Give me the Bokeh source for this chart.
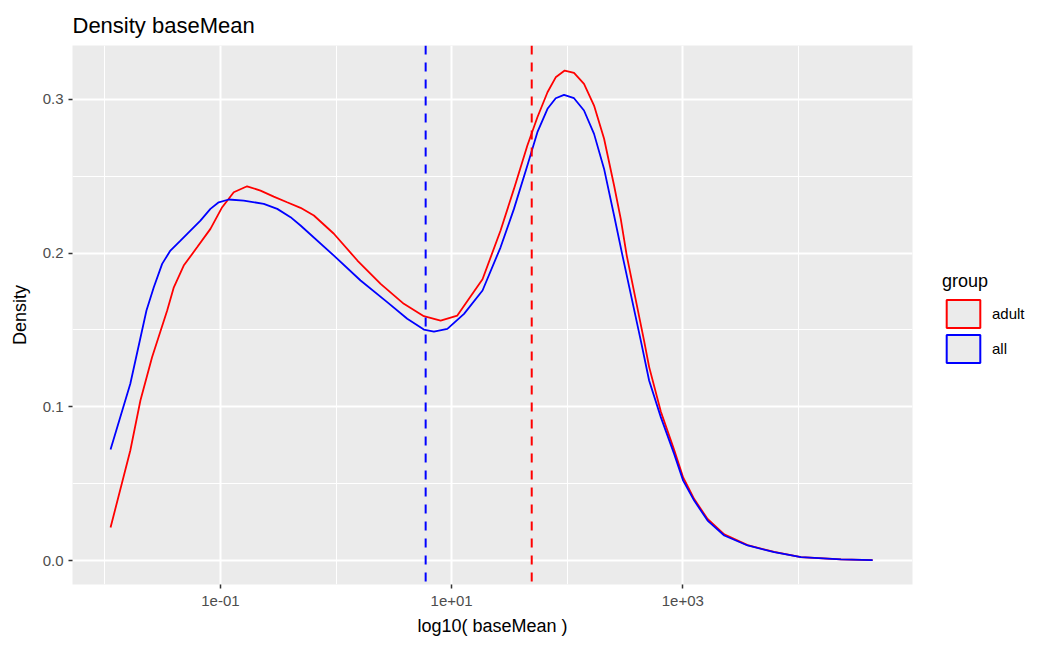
from bokeh.plotting import figure
from bokeh.models import (Range1d, FixedTicker, CustomJSTickFormatter, PrintfTickFormatter,
                          Span, Legend, LegendItem, Title)
from bokeh.embed import file_html
from bokeh.resources import INLINE

# ---- data ----
groups = ["adult", "all"]
group_colors = ["#FF0000", "#0000FF"]

adult_x = [0.0112, 0.0166, 0.0203, 0.0256, 0.0346, 0.0395, 0.0481, 0.0628, 0.0819, 0.1035,
           0.1303, 0.170, 0.222, 0.289, 0.377, 0.493, 0.643, 0.958, 1.53, 2.43,
           3.86, 5.75, 8.03, 11.2, 18.5, 26.5, 34.6, 45.2, 55.2, 67.5,
           79.5, 95.1, 114.5, 139.7, 170.6, 208.4, 254.3, 290.4, 327.3, 462,
           511, 645, 841, 1007, 1254, 1637, 2282, 3634, 6174, 10520, 23350, 43850]
adult_density = [0.0215, 0.0716, 0.1041, 0.1323, 0.1627, 0.1778, 0.1919, 0.2038, 0.2158, 0.2299,
                 0.2396, 0.2435, 0.2407, 0.2368, 0.2331, 0.2295, 0.2245, 0.2126, 0.1952, 0.1800,
                 0.1670, 0.1590, 0.1561, 0.1594, 0.1830, 0.2147, 0.2418, 0.2700, 0.2884, 0.3047,
                 0.3144, 0.3188, 0.3173, 0.3102, 0.2960, 0.2744, 0.2440, 0.2223, 0.1984, 0.1431,
                 0.1260, 0.0970, 0.0720, 0.0540, 0.0400, 0.0270, 0.0170, 0.0100, 0.0056, 0.0022,
                 0.0007, 0.0002]

all_x = [0.0112, 0.0166, 0.0229, 0.0265, 0.0313, 0.0369, 0.0451, 0.0550, 0.0671, 0.0819,
         0.0966, 0.118, 0.159, 0.237, 0.310, 0.404, 0.493, 0.958, 1.63, 2.77,
         4.13, 5.75, 7.03, 9.18, 12.8, 18.5, 26.5, 34.6, 45.2, 55.2,
         67.5, 79.5, 93.8, 114.5, 139.7, 170.6, 208.4, 254.3, 300.6, 433,
         511, 645, 841, 1007, 1254, 1637, 2282, 3634, 6174, 10520, 23350, 43850]
all_density = [0.0722, 0.1150, 0.1627, 0.1778, 0.1930, 0.2017, 0.2082, 0.2147, 0.2212, 0.2288,
               0.2331, 0.2349, 0.2342, 0.2321, 0.2288, 0.2234, 0.2180, 0.1984, 0.1822, 0.1681,
               0.1573, 0.1503, 0.1490, 0.1507, 0.1605, 0.1757, 0.2038, 0.2288, 0.2570, 0.2787,
               0.2939, 0.3008, 0.3030, 0.3008, 0.2928, 0.2776, 0.2548, 0.2245, 0.1984, 0.1431,
               0.1171, 0.0933, 0.0694, 0.0520, 0.0390, 0.0260, 0.0163, 0.0098, 0.0054, 0.0022,
               0.0007, 0.0002]

vline_x = [49.3, 5.96]          # adult, all
x_major = [0.1, 10, 1000]
x_minor = [0.01, 1, 100, 10000]
y_major = [0.0, 0.1, 0.2, 0.3]
y_minor = [0.05, 0.15, 0.25]

FONT = "Liberation Sans"
PANEL = "#EBEBEB"

p = figure(frame_width=840, frame_height=539, x_axis_type="log", output_backend="svg",
           toolbar_location=None,
           x_range=Range1d(0.005248, 97050), y_range=Range1d(-0.0156, 0.3351),
           min_border_left=72, min_border_right=122, min_border_top=45, min_border_bottom=52)
p.background_fill_color = PANEL
p.border_fill_color = "white"
p.outline_line_color = None

p.title = Title(text="Density baseMean", text_font=FONT, text_font_size="22px",
                text_font_style="normal", text_color="black", align="left", offset=0,
                standoff=16)

# density lines
for xs, ys, c in [(adult_x, adult_density, group_colors[0]), (all_x, all_density, group_colors[1])]:
    p.line(xs, ys, line_color=c, line_width=1.8)

# dashed reference lines
for xv, c in zip(vline_x, group_colors):
    p.add_layout(Span(location=xv, dimension="height", line_color=c, line_width=2,
                      line_dash="9 8"))

# axes
xt = FixedTicker(ticks=x_major, minor_ticks=x_minor)
yt = FixedTicker(ticks=y_major, minor_ticks=y_minor)
p.xaxis.ticker = xt
p.yaxis.ticker = yt
p.xgrid.ticker = xt
p.ygrid.ticker = yt
p.xaxis.formatter = CustomJSTickFormatter(code="""
const e = Math.round(Math.log10(tick));
const s = e < 0 ? '-' : '+';
const a = Math.abs(e);
return '1e' + s + (a < 10 ? '0' : '') + a;
""")
p.yaxis.formatter = PrintfTickFormatter(format="%.1f")

for ax in (p.xaxis, p.yaxis):
    ax.axis_line_color = None
    ax.major_tick_line_color = "#333333"
    ax.major_tick_line_width = 1.5
    ax.major_tick_out = 4
    ax.major_tick_in = 0
    ax.minor_tick_line_color = None
    ax.major_label_text_font = FONT
    ax.major_label_text_font_size = "15px"
    ax.major_label_text_color = "#4D4D4D"
    ax.axis_label_text_font = FONT
    ax.axis_label_text_font_size = "18px"
    ax.axis_label_text_font_style = "normal"
    ax.axis_label_text_color = "black"

p.xaxis.axis_label = "log10( baseMean )"
p.yaxis.axis_label = "Density"
p.xaxis.major_label_standoff = 7
p.yaxis.major_label_standoff = 5
p.xaxis.axis_label_standoff = 7
p.yaxis.axis_label_standoff = 10

for g in (p.xgrid, p.ygrid):
    g.grid_line_color = "white"
    g.grid_line_width = 2
    g.minor_grid_line_color = "white"
    g.minor_grid_line_width = 1

# legend keys: invisible rect glyphs with coloured outline
nan = float("nan")
keys = []
for name, c in zip(groups, group_colors):
    kr = p.rect(x=[nan], y=[nan], width=1, height=1, fill_color=PANEL, line_color=c,
                line_width=2)
    keys.append(LegendItem(label=name, renderers=[kr]))

legend = Legend(items=keys, title="group", location=(30, 218),
                title_text_font=FONT, title_text_font_size="18px", title_text_color="black",
                title_text_font_style="normal",
                label_text_font=FONT, label_text_font_size="15px", label_text_color="black",
                glyph_width=42, glyph_height=35, spacing=0, label_standoff=8,
                title_standoff=4, margin=0, padding=0,
                border_line_color=None, background_fill_alpha=0)
p.add_layout(legend, "right")

open("out.html", "w").write(file_html(p, INLINE))
